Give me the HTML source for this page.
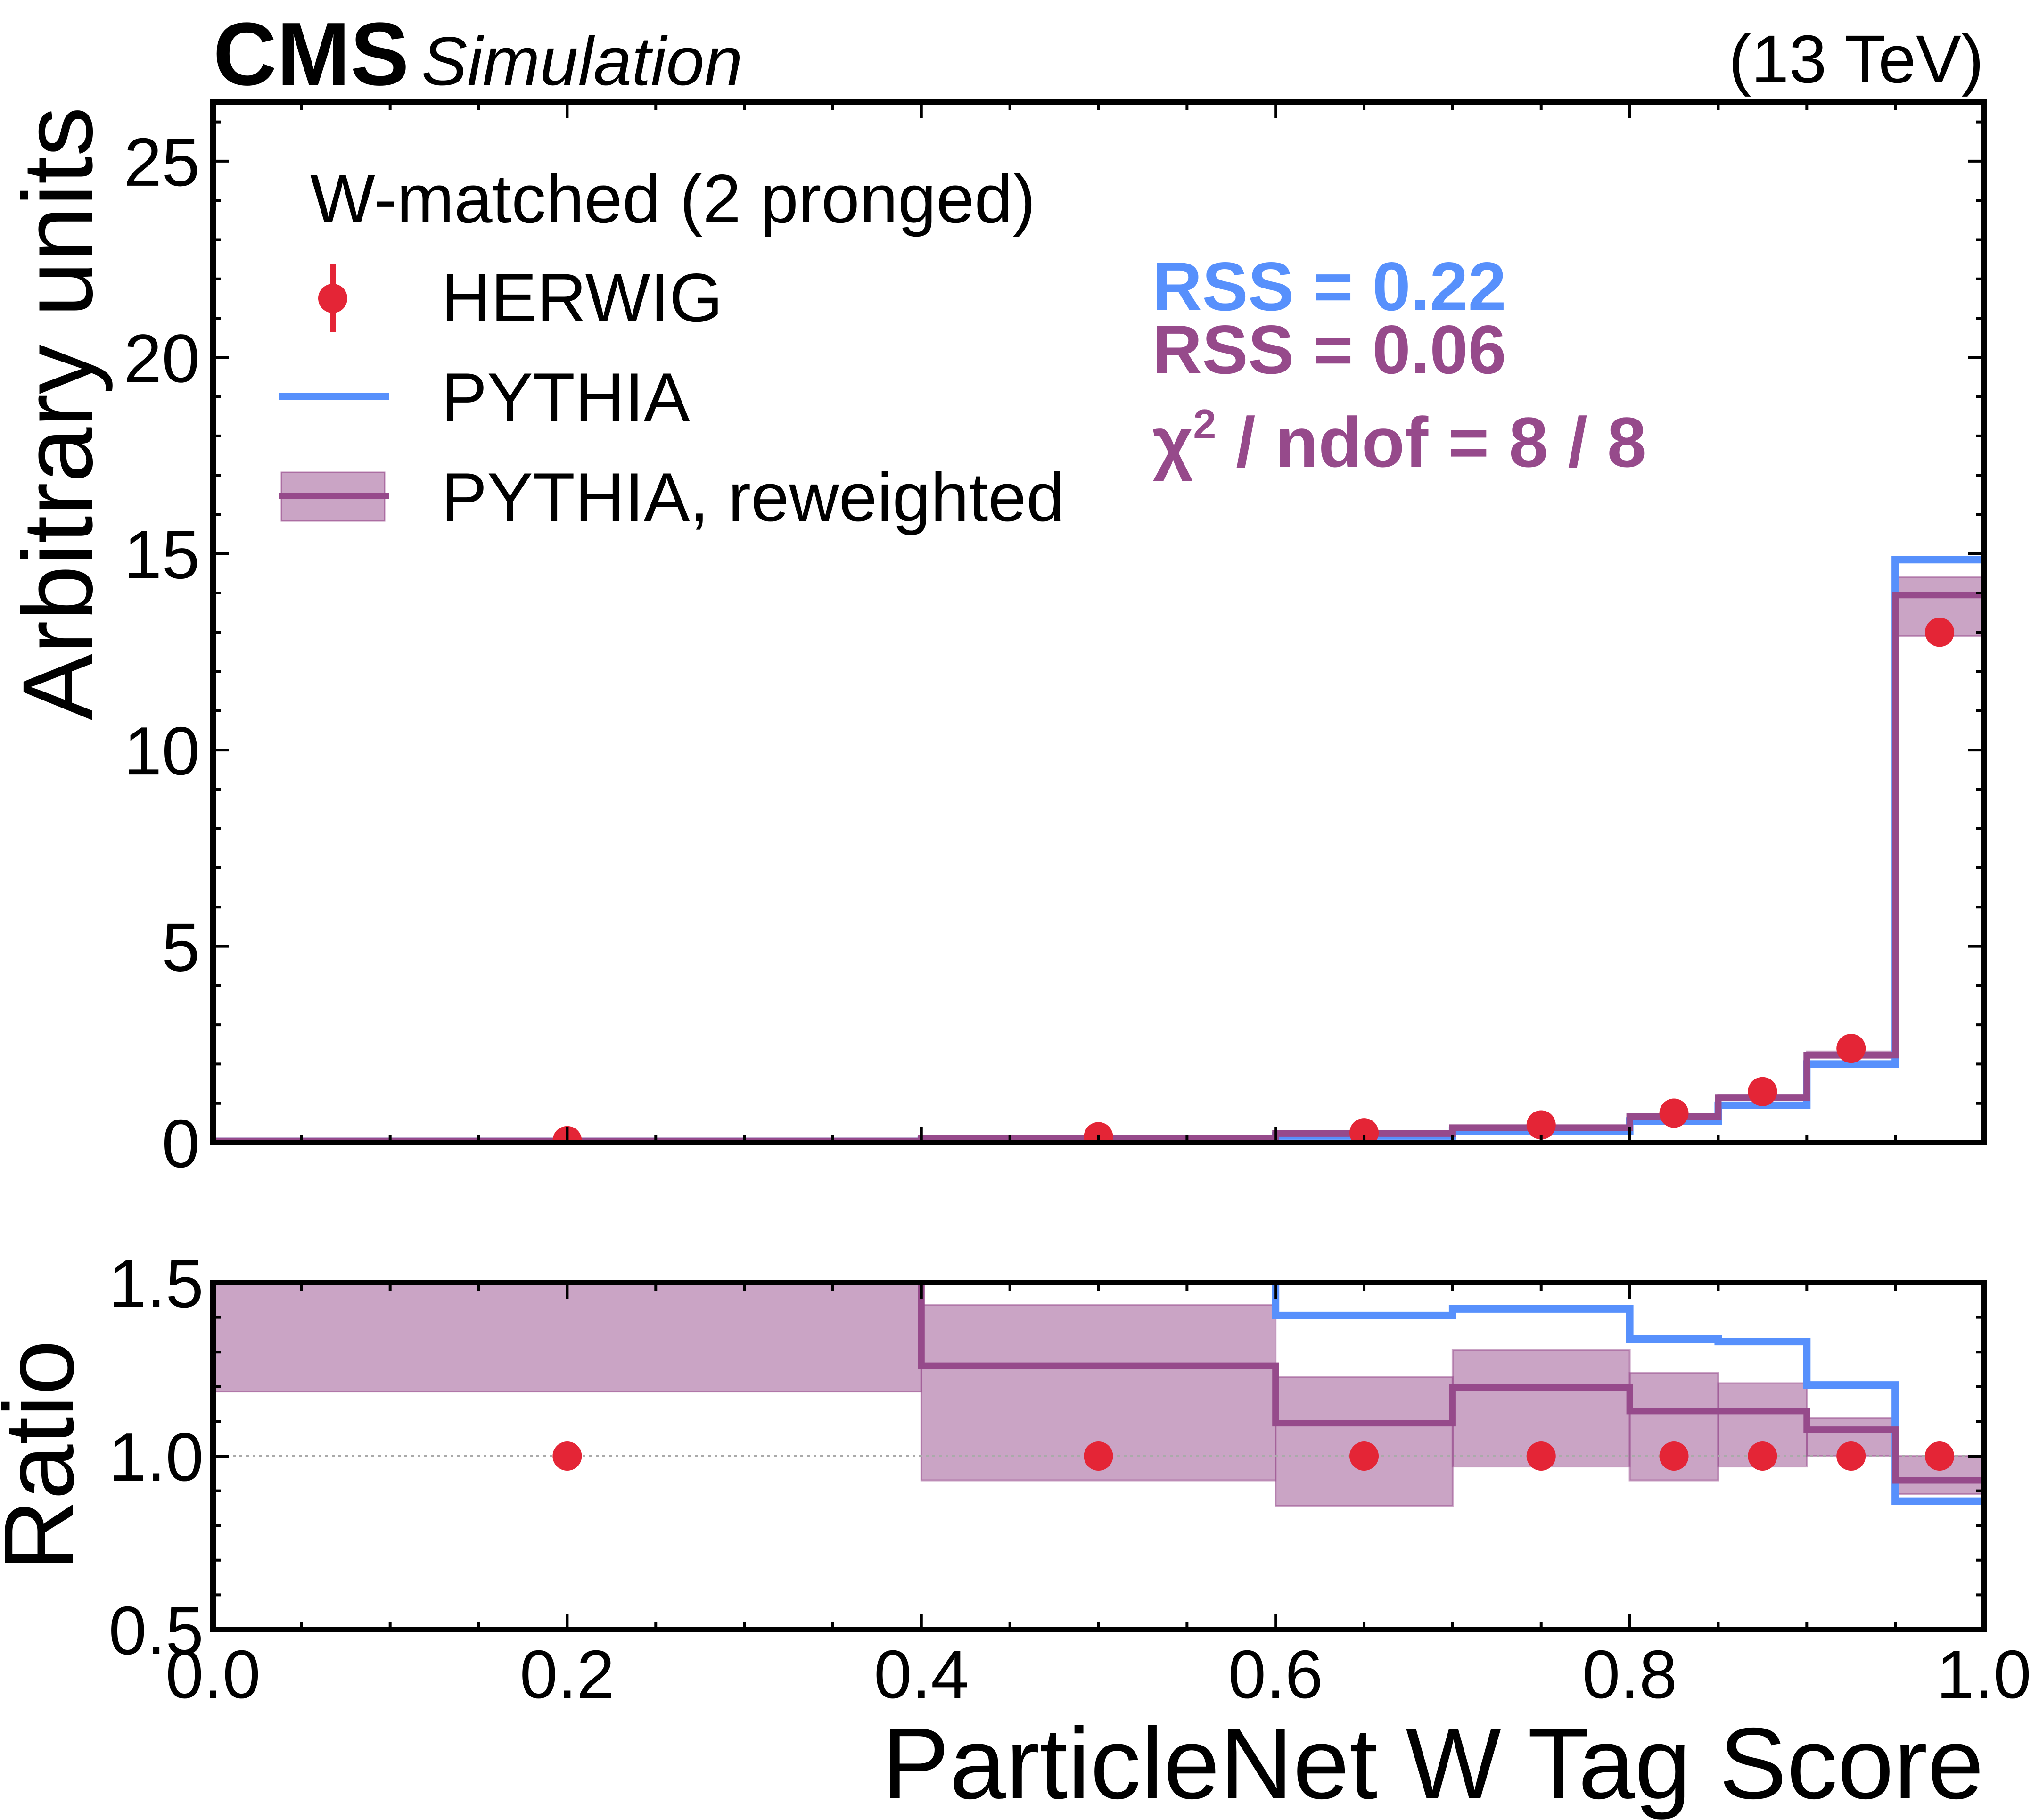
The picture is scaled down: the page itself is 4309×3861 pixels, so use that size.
<!DOCTYPE html>
<html><head><meta charset="utf-8"><style>
html,body{margin:0;padding:0;background:#fff;}
svg{display:block;font-family:"Liberation Sans",sans-serif;}
</style></head><body>
<svg id="chart" width="4309" height="3861" viewBox="0 0 4309 3861" xmlns="http://www.w3.org/2000/svg">
<g id="g-main"></g>
<g id="g-ratio"></g>
<g id="g-text">
<text x="452" y="180" font-size="190" font-weight="bold" fill="#000" textLength="416" lengthAdjust="spacingAndGlyphs">CMS</text>
<text x="894" y="180" font-size="146" font-style="italic" fill="#000">Simulation</text>
<text x="4209" y="175" font-size="144" text-anchor="end" fill="#000">(13 TeV)</text>
<text transform="translate(195,1528) rotate(-90)" font-size="211" fill="#000">Arbitrary units</text>
<text transform="translate(155,3333) rotate(-90)" font-size="210" fill="#000">Ratio</text>
<text x="4209" y="3815" font-size="215" text-anchor="end" fill="#000">ParticleNet W Tag Score</text>
<text x="658" y="472" font-size="146" fill="#000">W-matched (2 pronged)</text>
<line x1="706" y1="560" x2="706" y2="705" stroke="#e42536" stroke-width="12"/>
<circle cx="706" cy="633" r="31" fill="#e42536"/>
<text x="936" y="682" font-size="146" fill="#000">HERWIG</text>
<line x1="591" y1="841" x2="825" y2="841" stroke="#5790fc" stroke-width="16"/>
<text x="936" y="893" font-size="146" fill="#000">PYTHIA</text>
<rect x="597" y="1002" width="219" height="103" fill="#964a8b" fill-opacity="0.5" stroke="#964a8b" stroke-opacity="0.6" stroke-width="3"/>
<line x1="591" y1="1052" x2="825" y2="1052" stroke="#964a8b" stroke-width="14"/>
<text x="936" y="1105" font-size="146" fill="#000">PYTHIA, reweighted</text>
<text x="2445" y="658" font-size="146" font-weight="bold" fill="#5790fc">RSS = 0.22</text>
<text x="2445" y="792" font-size="146" font-weight="bold" fill="#964a8b">RSS = 0.06</text>
<text x="2445" y="990" font-size="150" font-weight="bold" fill="#964a8b">χ<tspan dy="-60" font-size="88">2</tspan><tspan dy="60"> / ndof = 8 / 8</tspan></text>
</g>
</svg>
<script>
const edges = [0, 0.4, 0.6, 0.7, 0.8, 0.85, 0.9, 0.95, 1.0];
const herwig = [0.05, 0.15, 0.25, 0.45, 0.75, 1.3, 2.4, 13.0];
const pythia = [0.03, 0.08, 0.17, 0.30, 0.55, 0.95, 2.0, 14.85];
const reweighted = [0.04, 0.12, 0.23, 0.38, 0.67, 1.15, 2.23, 13.95];
const rwLow = [0.03, 0.10, 0.20, 0.35, 0.62, 1.08, 2.15, 12.9];
const rwHigh = [0.05, 0.14, 0.26, 0.42, 0.72, 1.22, 2.32, 14.4];
const ratioPythia = [1.9, 1.8, 1.405, 1.424, 1.337, 1.33, 1.205, 0.87];
const ratioRw = [1.7, 1.26, 1.095, 1.197, 1.13, 1.13, 1.076, 0.93];
const ratioRwLow = [1.186, 0.93, 0.856, 0.97, 0.93, 0.97, 1.0, 0.89];
const ratioRwHigh = [2.0, 1.436, 1.227, 1.307, 1.24, 1.21, 1.11, 1.0];
const ratioHerwig = [1, 1, 1, 1, 1, 1, 1, 1];
const mainYTicks = [0, 5, 10, 15, 20, 25];
const ratioYTicks = [0.5, 1.0, 1.5];
const xTicks = [0, 0.2, 0.4, 0.6, 0.8, 1.0];
const xTickLabels = ["0.0", "0.2", "0.4", "0.6", "0.8", "1.0"];
const ratioYTickLabels = ["0.5", "1.0", "1.5"];

const NS = "http://www.w3.org/2000/svg";
const L = 452, R = 4209;
const MT = 217, MB = 2424, YMAX = 26.5;
const RT = 2721, RB = 3457, RMIN = 0.5, RMAX = 1.5;
const X = v => L + (R - L) * v;
const YM = v => MB - (MB - MT) * v / YMAX;
const YR = v => RB - (RB - RT) * (v - RMIN) / (RMAX - RMIN);
const gM = document.getElementById('g-main');
const gR = document.getElementById('g-ratio');
function mk(tag, attrs, parent) {
  const e = document.createElementNS(NS, tag);
  for (const k in attrs) e.setAttribute(k, attrs[k]);
  parent.appendChild(e);
  return e;
}
function clip(id, top, bottom) {
  const defs = mk('defs', {}, document.getElementById('chart'));
  const cp = mk('clipPath', {id: id}, defs);
  mk('rect', {x: L, y: top, width: R - L, height: bottom - top}, cp);
}
clip('cm', MT, MB); clip('cr', RT, RB);
function stepPath(vals, yf) {
  let d = '';
  for (let i = 0; i < vals.length; i++) {
    const x0 = X(edges[i]), x1 = X(edges[i + 1]), y = yf(vals[i]);
    d += (i === 0 ? 'M' : 'L') + x0 + ' ' + y + ' L' + x1 + ' ' + y + ' ';
  }
  return d;
}
function drawPanel(g, yf, lo, hi, rw, py, hw, top, bottom, clipId, prefix) {
  const inner = mk('g', {'clip-path': 'url(#' + clipId + ')'}, g);
  for (let i = 0; i < lo.length; i++) {
    const band = mk('rect', {x: X(edges[i]), y: yf(hi[i]), width: X(edges[i + 1]) - X(edges[i]), height: yf(lo[i]) - yf(hi[i]), fill: '#964a8b', 'fill-opacity': 0.5, stroke: '#964a8b', 'stroke-opacity': 0.5, 'stroke-width': 4}, inner);
    
    
  }
  if (prefix === 'ratio') {
    const ref = mk('line', {x1: L, x2: R, y1: YR(1), y2: YR(1), stroke: '#aaa', 'stroke-width': 4, 'stroke-dasharray': '6 8'}, inner);
    
    
  }
  const pl = mk('path', {d: stepPath(py, yf), fill: 'none', stroke: '#5790fc', 'stroke-width': 16}, inner);
  
  
  const rl = mk('path', {d: stepPath(rw, yf), fill: 'none', stroke: '#964a8b', 'stroke-width': 14}, inner);
  
  
  for (let i = 0; i < hw.length; i++) {
    const c = mk('circle', {cx: X((edges[i] + edges[i + 1]) / 2), cy: yf(hw[i]), r: 31, fill: '#e42536'}, inner);
    
    
  }
  for (let v = 0; v <= 1.0001; v += 0.05) {
    const major = Math.abs(v * 5 - Math.round(v * 5)) < 1e-6;
    const len = major ? 34 : 17;
    mk('line', {x1: X(v), x2: X(v), y1: bottom, y2: bottom - len, stroke: '#000', 'stroke-width': 6}, g);
    mk('line', {x1: X(v), x2: X(v), y1: top, y2: top + len, stroke: '#000', 'stroke-width': 6}, g);
  }
  const frame = mk('rect', {x: L, y: top, width: R - L, height: bottom - top, fill: 'none', stroke: '#000', 'stroke-width': 12}, g);
  
  
}
drawPanel(gM, YM, rwLow, rwHigh, reweighted, pythia, herwig, MT, MB, 'cm', 'main');
drawPanel(gR, YR, ratioRwLow, ratioRwHigh, ratioRw, ratioPythia, ratioHerwig, RT, RB, 'cr', 'ratio');
for (let v = 0; v <= 26; v += 1) {
  const len = v % 5 === 0 ? 34 : 17;
  mk('line', {x1: L, x2: L + len, y1: YM(v), y2: YM(v), stroke: '#000', 'stroke-width': 6}, gM);
  mk('line', {x1: R, x2: R - len, y1: YM(v), y2: YM(v), stroke: '#000', 'stroke-width': 6}, gM);
}
mainYTicks.forEach(v => {
  const t = mk('text', {x: L - 28, y: YM(v) + 52, 'font-size': 145, 'text-anchor': 'end', fill: '#000'}, gM);
  t.textContent = String(v);
  
  
});
for (let k = 5; k <= 15; k++) {
  const v = k / 10;
  const len = k % 5 === 0 ? 34 : 17;
  mk('line', {x1: L, x2: L + len, y1: YR(v), y2: YR(v), stroke: '#000', 'stroke-width': 6}, gR);
  mk('line', {x1: R, x2: R - len, y1: YR(v), y2: YR(v), stroke: '#000', 'stroke-width': 6}, gR);
}
ratioYTicks.forEach((v, i) => {
  const t = mk('text', {x: L - 20, y: YR(v) + 52, 'font-size': 145, 'text-anchor': 'end', fill: '#000'}, gR);
  t.textContent = ratioYTickLabels[i];
  
  
});
xTicks.forEach((v, i) => {
  const t = mk('text', {x: X(v), y: RB + 145, 'font-size': 145, 'text-anchor': 'middle', fill: '#000'}, gR);
  t.textContent = xTickLabels[i];
  
  
});
</script>
</body></html>
